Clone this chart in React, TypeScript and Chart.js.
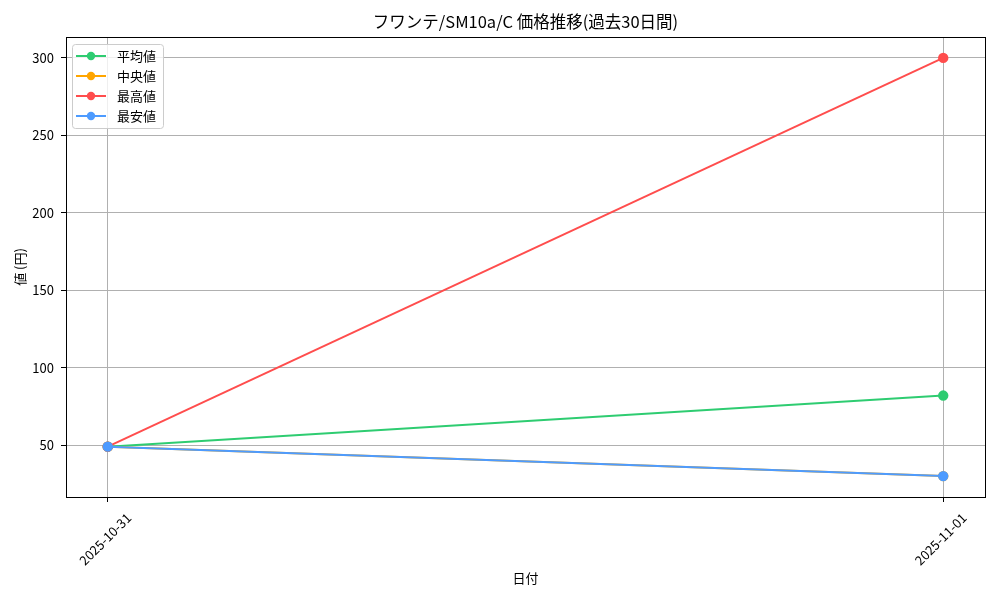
import { useEffect, useRef } from 'react';
import { Chart, registerables } from 'chart.js';

Chart.register(...registerables);

const dates = ['2025-10-31', '2025-11-01'];
const avgPrices = [49, 82];
const medianPrices = [49, 30];
const maxPrices = [49, 300];
const minPrices = [49, 30];
const yTicks = [50, 100, 150, 200, 250, 300];

const TITLE = 'フワンテ/SM10a/C 価格推移(過去30日間)';
const FONT = "'Noto Sans CJK JP', 'Noto Sans', sans-serif";

const series = [
  { label: '平均値', data: avgPrices, color: '#2ecc71' },
  { label: '中央値', data: medianPrices, color: '#ffa500' },
  { label: '最高値', data: maxPrices, color: '#ff4d4d' },
  { label: '最安値', data: minPrices, color: '#4d9bff' },
];

// frame, title and legend drawn like matplotlib (legend inside the axes)
const framePlugin = {
  id: 'mplFrame',
  afterDatasetsDraw(chart: Chart) {
    const { ctx, chartArea: a } = chart;
    ctx.save();
    ctx.strokeStyle = '#000';
    ctx.lineWidth = 1;
    ctx.strokeRect(a.left + 0.5, a.top + 0.5, a.right - a.left, a.bottom - a.top);

    ctx.fillStyle = '#000';
    ctx.font = `16.5px ${FONT}`;
    ctx.textAlign = 'center';
    ctx.textBaseline = 'middle';
    ctx.fillText(TITLE, (a.left + a.right) / 2, a.top - 15);

    const bx = a.left + 6;
    const by = a.top + 7;
    const bw = 91;
    const bh = 84;
    ctx.fillStyle = 'rgba(255,255,255,0.8)';
    ctx.strokeStyle = '#cccccc';
    ctx.beginPath();
    ctx.roundRect(bx + 0.5, by + 0.5, bw, bh, 3);
    ctx.fill();
    ctx.stroke();

    ctx.font = `13px ${FONT}`;
    ctx.textAlign = 'left';
    series.forEach((s, i) => {
      const y = by + 12 + i * 20;
      ctx.strokeStyle = s.color;
      ctx.lineWidth = 2;
      ctx.beginPath();
      ctx.moveTo(bx + 4, y);
      ctx.lineTo(bx + 34, y);
      ctx.stroke();
      ctx.fillStyle = s.color;
      ctx.beginPath();
      ctx.arc(bx + 19, y, 4.2, 0, Math.PI * 2);
      ctx.fill();
      ctx.fillStyle = '#000';
      ctx.fillText(s.label, bx + 45, y);
    });
    ctx.restore();
  },
};

export default function App() {
  const canvasRef = useRef<HTMLCanvasElement>(null);

  useEffect(() => {
    if (!canvasRef.current) return;
    Chart.defaults.font.family = FONT;
    Chart.defaults.color = '#000';

    const chart = new Chart(canvasRef.current, {
      type: 'line',
      data: {
        datasets: series.map((s, i) => ({
          label: s.label,
          data: s.data.map((v, j) => ({ x: j, y: v })),
          borderColor: s.color,
          backgroundColor: s.color,
          pointBackgroundColor: s.color,
          pointBorderColor: s.color,
          pointRadius: 4.2,
          borderWidth: 2,
          tension: 0,
          order: series.length - i, // later series on top, as in matplotlib
        })),
      },
      options: {
        animation: false,
        responsive: false,
        layout: { padding: { right: 15, left: 0, top: 37, bottom: 0 } },
        plugins: {
          legend: { display: false },
          tooltip: { enabled: false },
          title: { display: false },
        },
        scales: {
          x: {
            type: 'linear',
            min: -0.05,
            max: 1.05,
            afterBuildTicks: (s: any) => {
              s.ticks = dates.map((_, i) => ({ value: i }));
            },
            afterFit: (s: any) => {
              s.height = 103;
            },
            ticks: {
              callback: (v: any) => dates[v as number],
              minRotation: 45,
              maxRotation: 45,
              font: { size: 13 },
              padding: 8,
              labelOffset: 21,
            },
            grid: { color: '#b0b0b0', lineWidth: 1, tickColor: '#000', tickLength: 5 },
            border: { color: '#000', width: 1 },
            title: { display: true, text: '日付', font: { size: 13 }, padding: { top: 4, bottom: 14 } },
          },
          y: {
            min: 16.5,
            max: 313.5,
            afterBuildTicks: (s: any) => {
              s.ticks = yTicks.map((v) => ({ value: v }));
            },
            afterFit: (s: any) => {
              s.width = 66;
            },
            ticks: { font: { size: 13 }, padding: 7 },
            grid: { color: '#b0b0b0', lineWidth: 1, tickColor: '#000', tickLength: 5 },
            border: { color: '#000', width: 1 },
            title: { display: true, text: '値 (円)', font: { size: 13 }, padding: { top: 12, bottom: 4 } },
          },
        },
      },
      plugins: [framePlugin],
    });
    return () => chart.destroy();
  }, []);

  return (
    <div style={{ position: 'absolute', left: 0, top: 0, width: 1000, height: 600, background: '#fff' }}>
      <canvas ref={canvasRef} width={1000} height={600} style={{ width: 1000, height: 600 }} />
    </div>
  );
}
